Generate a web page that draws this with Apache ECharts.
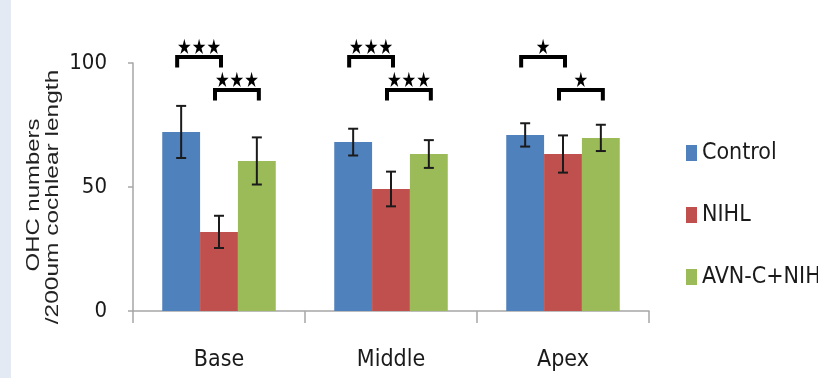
<!DOCTYPE html>
<html>
<head>
<meta charset="utf-8">
<script src="https://cdn.jsdelivr.net/npm/echarts@6/dist/echarts.min.js"></script>
<style>
html,body{margin:0;padding:0;background:#fff;}
#chart{width:818px;height:378px;}
</style>
</head>
<body>
<div id="chart"></div>
<script>
// ---- data ----
const categories = ['Base', 'Middle', 'Apex'];
const seriesNames = ['Control', 'NIHL', 'AVN-C+NIHL'];
const controlMean = [72.2, 68.1, 71.0];
const controlErr  = [10.5, 5.4, 4.7];
const nihlMean    = [31.9, 49.2, 63.3];
const nihlErr     = [6.5, 7.0, 7.5];
const avnMean     = [60.5, 63.3, 69.8];
const avnErr      = [9.5, 5.6, 5.3];
const yTicks = [0, 50, 100];
// significance brackets: category, from bar, to bar, level, label
const sigCategory = [0, 0, 1, 1, 2, 2];
const sigFrom     = [0, 1, 0, 1, 0, 1];
const sigTo       = [1, 2, 1, 2, 1, 2];
const sigLevel    = [0, 1, 0, 1, 0, 1];
const sigLabel    = ['***', '***', '***', '***', '*', '*'];
const yTitle1 = 'OHC numbers';
const yTitle2 = '/200um cochlear length';

// ---- styles / layout ----
const colors = ['#4f81bd', '#c0504d', '#9bbb59'];
const means = [controlMean, nihlMean, avnMean];
const errs = [controlErr, nihlErr, avnErr];
const CAT_GAP = 0.34;
const narrow = "'Liberation Sans Narrow','DejaVu Sans Condensed','Liberation Sans',sans-serif";
const bracketTop = [102.4, 89.1];
const bracketDrop = 4.2;

const chart = echarts.init(document.getElementById('chart'), null, {renderer: 'canvas'});

function barWidth(api) {
  return api.size([1, 0])[0] * (1 - CAT_GAP) / 3;
}

const series = [];
seriesNames.forEach((name, k) => {
  series.push({
    name: name,
    type: 'bar',
    data: means[k],
    barGap: '0%',
    barCategoryGap: (CAT_GAP * 100) + '%',
    itemStyle: {color: colors[k]},
    z: 2
  });
});
seriesNames.forEach((name, k) => {
  series.push({
    type: 'custom',
    name: name + '-err',
    silent: true,
    z: 5,
    data: means[k].map((m, i) => [i, m - errs[k][i], m + errs[k][i]]),
    renderItem: function (params, api) {
      const ci = api.value(0);
      const lo = api.coord([ci, api.value(1)]);
      const hi = api.coord([ci, api.value(2)]);
      const bw = barWidth(api);
      const x = lo[0] + (k - 1) * bw;
      const cap = 5;
      const st = {stroke: '#1b1b1b', lineWidth: 2};
      return {
        type: 'group',
        children: [
          {type: 'line', shape: {x1: x, y1: lo[1], x2: x, y2: hi[1]}, style: st},
          {type: 'line', shape: {x1: x - cap, y1: hi[1], x2: x + cap, y2: hi[1]}, style: st},
          {type: 'line', shape: {x1: x - cap, y1: lo[1], x2: x + cap, y2: lo[1]}, style: st}
        ]
      };
    }
  });
});
series.push({
  type: 'custom',
  name: 'significance',
  silent: true,
  clip: false,
  z: 6,
  data: sigCategory.map((c, i) => [c, bracketTop[sigLevel[i]], sigFrom[i], sigTo[i]]),
  renderItem: function (params, api) {
    const i = params.dataIndex;
    const ci = api.value(0);
    const top = api.coord([ci, api.value(1)]);
    const bot = api.coord([ci, api.value(1) - bracketDrop]);
    const bw = barWidth(api);
    const x1 = top[0] + (api.value(2) - 1) * bw - 4;
    const x2 = top[0] + (api.value(3) - 1) * bw + 2;
    const label = sigLabel[i].replace(/\*/g, '\u2605');
    return {
      type: 'group',
      children: [
        {type: 'polyline', shape: {points: [[x1, bot[1]], [x1, top[1]], [x2, top[1]], [x2, bot[1]]]},
         style: {stroke: '#000', lineWidth: 4, fill: null, lineJoin: 'miter', lineCap: 'butt'}},
        {type: 'text', x: (x1 + x2) / 2, y: top[1] + 2, scaleX: 0.78,
         style: {text: label, fill: '#000', font: '21px DejaVu Sans', align: 'center', verticalAlign: 'bottom'}}
      ]
    };
  }
});

const option = {
  animation: false,
  backgroundColor: '#ffffff',
  grid: {left: 133, top: 63, width: 516, height: 248, containLabel: false},
  legend: {
    data: seriesNames,
    orient: 'vertical',
    left: 686,
    top: 141,
    itemWidth: 11,
    itemHeight: 16,
    itemGap: 38,
    itemStyle: {borderWidth: 0},
    icon: 'rect',
    textStyle: {fontFamily: narrow, fontSize: 23, lineHeight: 24, color: '#1a1a1a'},
    padding: 0
  },
  xAxis: {
    type: 'category',
    data: categories,
    axisLine: {show: true, lineStyle: {color: '#a6a6a6', width: 1.5}},
    axisTick: {show: true, length: 12, lineStyle: {color: '#a6a6a6', width: 1.5}},
    axisLabel: {fontFamily: narrow, fontSize: 23, color: '#1a1a1a', margin: 38}
  },
  yAxis: {
    type: 'value',
    min: yTicks[0],
    max: yTicks[yTicks.length - 1],
    interval: yTicks[1] - yTicks[0],
    axisLine: {show: true, lineStyle: {color: '#a6a6a6', width: 1.5}},
    axisTick: {show: true, length: 5, lineStyle: {color: '#a6a6a6', width: 1.5}},
    splitLine: {show: false},
    axisLabel: {fontFamily: narrow, fontSize: 22, color: '#1a1a1a', margin: 26}
  },
  graphic: [
    {type: 'rect', left: 0, top: 0, shape: {x: 0, y: 0, width: 11, height: 378}, style: {fill: '#e3eaf3'}, z: -10},
    {type: 'text', x: 34, y: 195, rotation: Math.PI / 2, scaleX: 1.33,
     style: {text: yTitle1, font: "18px 'Liberation Sans'", fill: '#222', align: 'center', verticalAlign: 'middle'}},
    {type: 'text', x: 53, y: 197, rotation: Math.PI / 2, scaleX: 1.36,
     style: {text: yTitle2, font: "18px 'Liberation Sans'", fill: '#222', align: 'center', verticalAlign: 'middle'}}
  ],
  series: series
};
chart.setOption(option);
</script>
</body>
</html>
